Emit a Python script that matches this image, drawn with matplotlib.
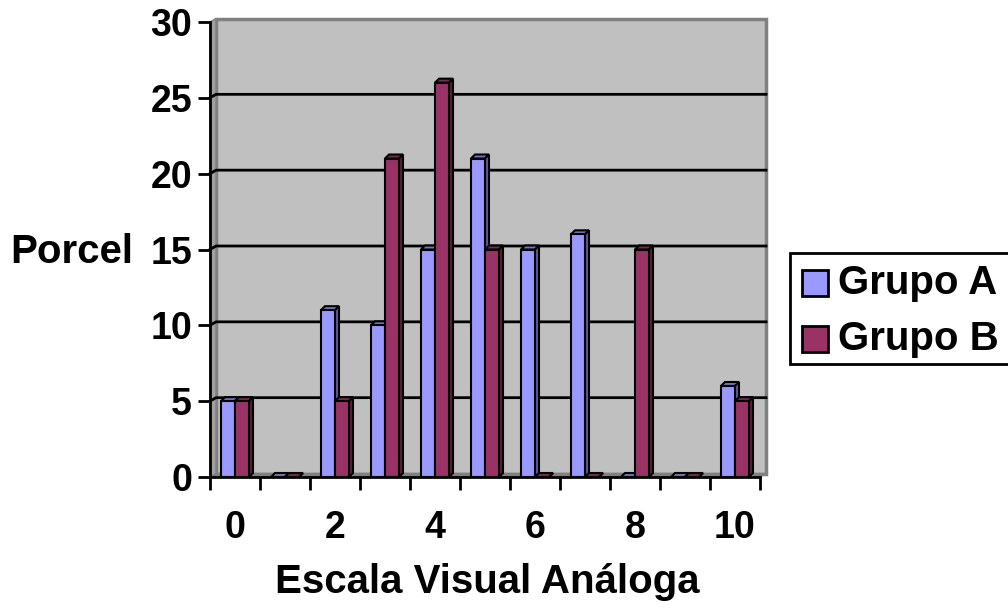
import numpy as np
import matplotlib
matplotlib.use("Agg")
import matplotlib.pyplot as plt
from matplotlib.patches import Polygon, Rectangle

plt.rcParams['font.family'] = ['Liberation Sans', 'DejaVu Sans']
plt.rcParams['font.weight'] = 'bold'

categorias = list(range(11))
grupo_a = [5, 0, 11, 10, 15, 21, 15, 16, 0, 0, 6]
grupo_b = [5, 0, 5, 21, 26, 15, 0, 0, 15, 0, 5]
rotulos_x = ['0', '', '2', '', '4', '', '6', '', '8', '', '10']
series = [('Grupo A', grupo_a), ('Grupo B', grupo_b)]

cores = {
    'Grupo A': ('#9999FF', '#7373C8', '#5C5CA0'),
    'Grupo B': ('#993366', '#7A2952', '#5C1F3D'),
}

FS = 27
W, H = 1008, 609
fig = plt.figure(figsize=(W / 100, H / 100), dpi=100)
ax = fig.add_axes([210 / W, (H - 477) / H, 550 / W, 455 / H])
ax.set_xlim(-0.5, 10.5)
ax.set_ylim(0, 30)
ax.set_facecolor('none')

# pixel -> data helpers for the 3d offsets
px_x = 11 / 550
px_y = 30 / 455
dx, dy = 6 * px_x, 3.5 * px_y  # wall depth
bx, by = 4 * px_x, 4 * px_y    # bar depth

# back wall, floor
ax.add_patch(Polygon([(-0.5 + dx, dy), (10.5 + dx, dy), (10.5 + dx, 30 + dy),
                      (-0.5 + dx, 30 + dy)], closed=True, facecolor='#C0C0C0',
                     edgecolor='#808080', lw=2.5, clip_on=False, zorder=0))
ax.add_patch(Polygon([(-0.5, 0), (10.5, 0), (10.5 + dx, dy), (-0.5 + dx, dy)],
                     closed=True, facecolor='#808080', edgecolor='#808080',
                     lw=1, clip_on=False, zorder=0.5))
ax.add_patch(Polygon([(-0.5, 0), (-0.5 + dx, dy), (-0.5 + dx, 30 + dy), (-0.5, 30)],
                     closed=True, facecolor='#A0A0A0', edgecolor='#808080',
                     lw=1, clip_on=False, zorder=0.5))
for g in range(5, 30, 5):
    ax.plot([-0.5, -0.5 + dx, 10.5 + dx], [g, g + dy, g + dy], color='black',
            lw=2, zorder=1, clip_on=False)

larg = 0.28
for k, (nome, vals) in enumerate(series):
    frente, topo, lado = cores[nome]
    for x, v in zip(categorias, vals):
        x0 = x - larg + k * larg
        x1 = x0 + larg
        ax.add_patch(Polygon([(x0, v), (x0 + bx, v + by), (x1 + bx, v + by), (x1, v)],
                             closed=True, facecolor=topo, edgecolor='black',
                             lw=1.5, zorder=3, clip_on=False))
        ax.add_patch(Polygon([(x1, 0), (x1 + bx, by), (x1 + bx, v + by), (x1, v)],
                             closed=True, facecolor=lado, edgecolor='black',
                             lw=1.5, zorder=3, clip_on=False))
        if v > 0:
            ax.add_patch(Rectangle((x0, 0), larg, v, facecolor=frente,
                                   edgecolor='black', lw=1.5, zorder=3))

for s in ['top', 'right']:
    ax.spines[s].set_visible(False)
for s in ['left', 'bottom']:
    ax.spines[s].set_linewidth(2)
    ax.spines[s].set_zorder(4)

ax.set_yticks(range(0, 31, 5))
ax.set_xticks(np.arange(-0.5, 11, 1))
ax.set_xticklabels([])
ax.set_xticks(categorias, minor=True)
ax.set_xticklabels(rotulos_x, minor=True)
ax.tick_params(axis='x', which='major', length=9, width=2, direction='out')
ax.tick_params(axis='x', which='minor', length=0, pad=24, labelsize=FS)
ax.tick_params(axis='y', length=9, width=2, direction='out', pad=4, labelsize=FS)
for lab in ax.get_xticklabels(minor=True) + ax.get_yticklabels():
    lab.set_fontweight('bold')

fig.text(10 / W, 1 - 252 / H, 'Porcel', fontsize=FS + 2, fontweight='bold',
         ha='left', va='center')
fig.text(487 / W, 1 - 582 / H, 'Escala Visual Análoga', fontsize=FS + 2,
         fontweight='bold', ha='center', va='center')

# legend box runs off the right edge
fig.patches.append(Rectangle((790 / W, 1 - 364 / H), 240 / W, 111 / H,
                             transform=fig.transFigure, facecolor='white',
                             edgecolor='black', lw=2))
for i, (nome, _) in enumerate(series):
    yc = 1 - (283 + i * 56) / H
    fig.patches.append(Rectangle((802 / W, yc - 13 / H), 26 / W, 26 / H,
                                 transform=fig.transFigure,
                                 facecolor=cores[nome][0], edgecolor='black', lw=2))
    fig.text(838 / W, yc, nome, fontsize=FS + 2, fontweight='bold', va='center',
             ha='left')

fig.savefig('out.png', dpi=100)
